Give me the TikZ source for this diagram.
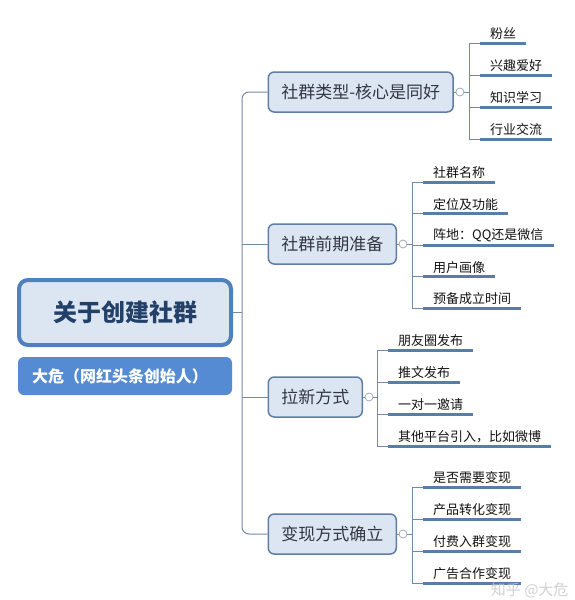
\documentclass[tikz,border=0pt]{standalone}
\usepackage{fontspec}
\setmainfont{Noto Sans CJK SC}
\usetikzlibrary{positioning}

\begin{document}
\begin{tikzpicture}[x=1pt, y=-1pt,
	mainbox/.style={draw=MAIN_BLUE, line width={4pt}, fill=PALE_BLUE, rounded corners=9pt,
		minimum width=212pt, minimum height=65pt, inner sep=0pt,
		font=\fontsize{24}{28}\selectfont\bfseries, text=TITLE_BLUE},
	subbox/.style={fill=SUB_BLUE, rounded corners=6pt, minimum height=38pt, inner xsep=14pt,
		text width=186pt, align=left, font=\fontsize{16}{19}\selectfont\bfseries, text=white},
	branch/.style={draw=BRANCH_EDGE, line width={1.5pt}, fill=PALE_BLUE, rounded corners=6pt,
		minimum height=40pt, inner xsep=13pt, anchor=west,
		font=\fontsize{17}{20}\selectfont, text=BRANCH_TEXT},
	leaf/.style={anchor=south west, inner xsep=10pt, inner ysep=3pt,
		font=\fontsize{13}{15}\selectfont, text=LEAF_TEXT},
	dot/.style={circle, draw=DOT_GRAY, fill=white, line width={0.8pt}, inner sep=0pt, minimum size=8pt},
	trunk/.style={draw=LINE_GRAY, line width={1pt}},
	uline/.style={draw=ULINE_BLUE, line width={3pt}}
	]
	\definecolor{MAIN_BLUE}{RGB}{79, 129, 189}
	\definecolor{PALE_BLUE}{RGB}{220, 230, 242}
	\definecolor{TITLE_BLUE}{RGB}{35, 64, 105}
	\definecolor{SUB_BLUE}{RGB}{84, 139, 210}
	\definecolor{BRANCH_EDGE}{RGB}{95, 125, 165}
	\definecolor{BRANCH_TEXT}{RGB}{50, 55, 65}
	\definecolor{LEAF_TEXT}{RGB}{20, 20, 20}
	\definecolor{DOT_GRAY}{RGB}{160, 170, 185}
	\definecolor{LINE_GRAY}{RGB}{115, 138, 165}
	\definecolor{ULINE_BLUE}{RGB}{90, 124, 168}

	\useasboundingbox[fill=white] (0,0) rectangle (575,600);

	% centre
	\node[mainbox] (ctr) at (125,312.5) {关于创建社群};
	\node[subbox] (sub) at (125,376) {大危（网红头条创始人）};

	% main branches
	\node[branch] (b1) at (267.5,92) {社群类型-核心是同好};
	\node[branch] (b2) at (267.5,244) {社群前期准备};
	\node[branch] (b3) at (267.5,397) {拉新方式};
	\node[branch] (b4) at (267.5,534) {变现方式确立};

	\coordinate (tk) at (242,0);
	\draw[trunk, rounded corners=7pt] (b1.west) -| (tk |- b4.west) -- (b4.west);
	\draw[trunk] (b2.west) -- (tk |- b2.west);
	\draw[trunk] (b3.west) -- (tk |- b3.west);
	\draw[trunk] (ctr.east) -- (tk |- ctr.east);

	% group 1
	\node[leaf] (l11) at (480,43) {粉丝};
	\node[leaf] (l12) at (480,75) {兴趣爱好};
	\node[leaf] (l13) at (480,107) {知识学习};
	\node[leaf] (l14) at (480,139) {行业交流};
	\coordinate (s1) at (469,92);

	% group 2
	\node[leaf] (l21) at (423,182) {社群名称};
	\node[leaf] (l22) at (423,213.5) {定位及功能};
	\node[leaf] (l23) at (423,245) {阵地：QQ还是微信};
	\node[leaf] (l24) at (423,276.5) {用户画像};
	\node[leaf] (l25) at (423,308) {预备成立时间};
	\coordinate (s2) at (412,244);

	% group 3
	\node[leaf] (l31) at (388,350) {朋友圈发布};
	\node[leaf] (l32) at (388,382) {推文发布};
	\node[leaf] (l33) at (388,414) {一对一邀请};
	\node[leaf] (l34) at (388,446) {其他平台引入，比如微博};
	\coordinate (s3) at (377,397);

	% group 4
	\node[leaf] (l41) at (423,487) {是否需要变现};
	\node[leaf] (l42) at (423,519) {产品转化变现};
	\node[leaf] (l43) at (423,551) {付费入群变现};
	\node[leaf] (l44) at (423,583) {广告合作变现};
	\coordinate (s4) at (412,534);

	% stems
	\draw[trunk] (b1.east) -- (s1);
	\draw[trunk] (b2.east) -- (s2);
	\draw[trunk] (b3.east) -- (s3);
	\draw[trunk] (b4.east) -- (s4);
	\draw[trunk] (s1 |- l11.south) -- (s1 |- l14.south);
	\draw[trunk] (s2 |- l21.south) -- (s2 |- l25.south);
	\draw[trunk] (s3 |- l31.south) -- (s3 |- l34.south);
	\draw[trunk] (s4 |- l41.south) -- (s4 |- l44.south);
	\foreach \g/\n/\s in {1/4/s1, 2/5/s2, 3/4/s3, 4/4/s4} {
		\foreach \i in {1,...,\n} {
			\draw[trunk] (\s |- l\g\i.south) -- (l\g\i.south west);
			\draw[uline] (l\g\i.south west) -- (l\g\i.south east);
		}
	}

	% collapse markers
	\node[dot] (d1) at ([xshift=6pt]b1.east) {};
	\node[dot] (d2) at ([xshift=6pt]b2.east) {};
	\node[dot] (d3) at ([xshift=6pt]b3.east) {};
	\node[dot] (d4) at ([xshift=6pt]b4.east) {};

	% watermark
	\node[text=gray!45, opacity=0.8, font=\fontsize{15}{18}\selectfont, anchor=east] (wm) at (572,590) {知乎 @大危};
\end{tikzpicture}
\end{document}
